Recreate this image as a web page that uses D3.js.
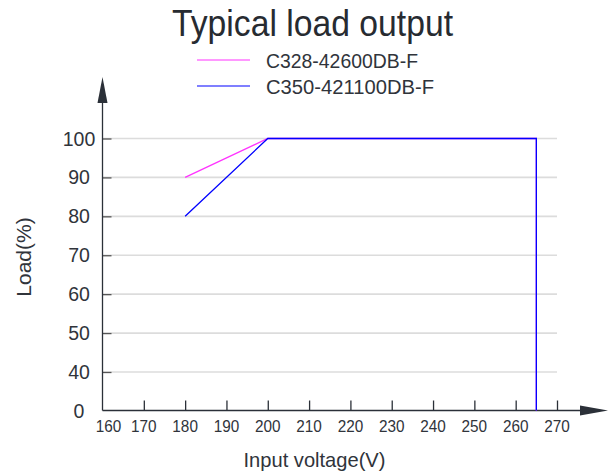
<!DOCTYPE html>
<html><head><meta charset="utf-8">
<script src="https://cdn.jsdelivr.net/npm/d3@7"></script>
<style>
html,body{margin:0;padding:0;background:#fff;}
svg{display:block;font-family:"Liberation Sans",Arial,sans-serif;}
</style></head>
<body><svg id="c" width="616" height="476"></svg>
<script>
const title = "Typical load output";
const seriesNames = ["C328-42600DB-F", "C350-421100DB-F"];
const seriesColors = ["#ff33ff", "#0000ff"];
const voltageA = [180, 200, 265, 265];
const loadA = [90, 100, 100, 0];
const voltageB = [180, 200, 265, 265];
const loadB = [80, 100, 100, 0];
const xTicks = [160, 170, 180, 190, 200, 210, 220, 230, 240, 250, 260, 270];
const yTicks = [0, 40, 50, 60, 70, 80, 90, 100];
const xLabel = "Input voltage(V)";
const yLabel = "Load(%)";

const svg = d3.select("#c");
const x = d3.scaleLinear().domain([160, 270]).range([102.5, 557]);
// broken axis: 0 sits one step below 40
const y = d3.scaleLinear().domain([0, 40, 100]).range([410.5, 372, 138.5]);
const axisCol = "#2b3038", textCol = "#30343b";

function squeeze(sel, f) {
  sel.each(function () {
    const w = this.getComputedTextLength();
    d3.select(this).attr("textLength", w * f).attr("lengthAdjust", "spacingAndGlyphs");
  });
}
function fitTo(sel, w) {
  sel.attr("textLength", w).attr("lengthAdjust", "spacingAndGlyphs");
}

// gridlines
svg.append("g").selectAll("line").data(yTicks.filter(d => d > 0)).join("line")
  .attr("x1", x(160)).attr("x2", x(270))
  .attr("y1", d => y(d)).attr("y2", d => y(d))
  .attr("stroke", "#dcdcdc").attr("stroke-width", 1.6);

// y axis ticks
const yAx = d3.axisRight(y).tickValues(yTicks.filter(d => d > 0)).tickSize(9).tickFormat("");
svg.append("g").attr("transform", `translate(${x(160)},0)`).call(yAx)
  .call(g => g.select(".domain").remove())
  .selectAll("line").attr("stroke", "#555").attr("stroke-width", 1.3);

// x axis ticks (upwards)
const xAx = d3.axisTop(x).tickValues(xTicks.filter(d => d > 160)).tickSize(10).tickFormat("");
svg.append("g").attr("transform", `translate(0,${y(0)})`).call(xAx)
  .call(g => g.select(".domain").remove())
  .selectAll("line").attr("stroke", axisCol).attr("stroke-width", 1.3);

// axes lines with arrows
svg.append("line").attr("x1", x(160)).attr("x2", x(160)).attr("y1", y(0)).attr("y2", 100)
  .attr("stroke", axisCol).attr("stroke-width", 1.3);
svg.append("path").attr("d", `M${x(160)},77 L${x(160)-5},103 L${x(160)+5},103 Z`).attr("fill", axisCol);
svg.append("line").attr("x1", x(160)).attr("x2", 585).attr("y1", y(0)).attr("y2", y(0))
  .attr("stroke", axisCol).attr("stroke-width", 1.3);
svg.append("path").attr("d", `M608,${y(0)} L580,${y(0)-5} L580,${y(0)+5} Z`).attr("fill", axisCol);

// tick labels
svg.append("g").selectAll("text").data(xTicks).join("text")
  .attr("x", d => x(d) + (d === 160 ? 6 : 0)).attr("y", 432)
  .attr("text-anchor", "middle").attr("font-size", 17).attr("fill", textCol)
  .text(d => d).call(squeeze, 0.9);
svg.append("g").selectAll("text").data(yTicks).join("text")
  .attr("x", 79).attr("y", d => y(d) + 7)
  .attr("text-anchor", "middle").attr("font-size", 19.5).attr("fill", textCol)
  .text(d => d);

// lines
const line = d3.line().x(d => x(d[0])).y(d => y(d[1]));
const dataA = voltageA.map((v, i) => [v, loadA[i]]);
const dataB = voltageB.map((v, i) => [v, loadB[i]]);
[dataA, dataB].forEach((d, i) => {
  svg.append("path").datum(d).attr("d", line).attr("fill", "none")
    .attr("stroke", seriesColors[i]).attr("stroke-width", 1.3);
});

// title
svg.append("text").attr("x", 172).attr("y", 36)
  .attr("font-size", 36).attr("fill", "#272b31").text(title).call(fitTo, 281);

// legend
const legendW = [152, 168];
seriesNames.forEach((n, i) => {
  const ly = 60 + i * 26;
  svg.append("line").attr("x1", 197).attr("x2", 250).attr("y1", ly).attr("y2", ly)
    .attr("stroke", seriesColors[i]).attr("stroke-width", 1.2);
  svg.append("text").attr("x", 266).attr("y", ly + 7.5).attr("font-size", 19.5)
    .attr("fill", textCol).text(n).call(fitTo, legendW[i]);
});

// axis titles
svg.append("text").attr("x", 243.5).attr("y", 466.5)
  .attr("font-size", 21).attr("fill", textCol).text(xLabel).call(fitTo, 142);
svg.append("text").attr("transform", "translate(31,257) rotate(-90)").attr("text-anchor", "middle")
  .attr("font-size", 21).attr("fill", textCol).text(yLabel);
</script></body></html>
